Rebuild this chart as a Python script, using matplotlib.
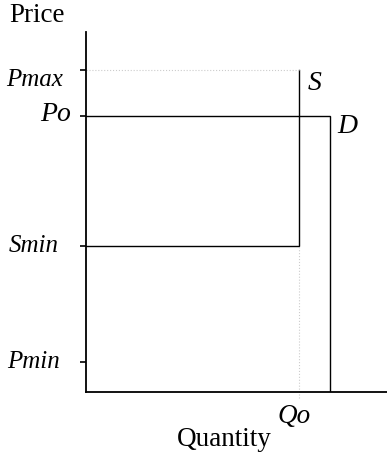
import matplotlib
matplotlib.use("Agg")
import matplotlib.pyplot as plt

plt.rcParams.update({
    "font.family": "serif",
    "font.serif": ["Liberation Serif", "DejaVu Serif"],
    "font.size": 19.5,
})

# price levels on the vertical axis
price_names = ["Pmax", "Po", "Smin", "Pmin"]
price_values = [8.95, 7.67, 4.06, 0.83]
# quantities
qo = 7.08        # supply vertical / Qo
q_demand = 8.1   # demand vertical

p = dict(zip(price_names, price_values))

# supply: horizontal at Smin, then vertical up to Pmax at Qo
supply_x = [0, qo, qo]
supply_y = [p["Smin"], p["Smin"], p["Pmax"]]
# demand: horizontal at Po, then vertical down to zero
demand_x = [0, q_demand, q_demand]
demand_y = [p["Po"], p["Po"], 0]

fig = plt.figure(figsize=(3.87, 4.66), dpi=100)
ax = fig.add_axes([86 / 387, 74 / 466, 301 / 387, 360 / 466])

ax.plot(supply_x, supply_y, color="black", lw=1.0, solid_joinstyle="miter")
ax.plot(demand_x, demand_y, color="black", lw=1.0, solid_joinstyle="miter")

# guide lines (dotted)
ax.plot([0, qo], [p["Pmax"], p["Pmax"]], color="#cccccc", lw=0.8, ls=":")
ax.plot([qo, qo], [-0.17, p["Smin"]], color="#cccccc", lw=0.8, ls=":", clip_on=False)

ax.set_xlim(0, 10)
ax.set_ylim(0, 10)
for s in ["top", "right"]:
    ax.spines[s].set_visible(False)
for s in ["left", "bottom"]:
    ax.spines[s].set_linewidth(1.3)
ax.set_xticks([])
ax.set_yticks(price_values)
ax.set_yticklabels([])
ax.tick_params(axis="y", direction="out", length=4.5, width=1.2)

# tick labels placed by hand (offsets in points from the axis)
label_dx = {"Pmax": -16.5, "Po": -11, "Smin": -20, "Pmin": -18.5}
label_dy = {"Pmax": -7, "Po": 1, "Smin": 0, "Pmin": 0}
label_fs = {"Pmax": 18, "Po": 20, "Smin": 18, "Pmin": 18}
for name, val in zip(price_names, price_values):
    ax.annotate(name, xy=(0, val), xytext=(label_dx[name], label_dy[name]),
                textcoords="offset points", ha="right", va="center",
                style="italic", fontsize=label_fs[name], annotation_clip=False)

ax.text(7.6, 8.56, "S", ha="center", va="center", style="italic", fontsize=20)
ax.text(8.67, 7.38, "D", ha="center", va="center", style="italic", fontsize=20)
ax.text(6.91, -0.67, "Qo", ha="center", va="center", style="italic", clip_on=False)

fig.text(9 / 387, 1 - 16 / 466, "Price", ha="left", va="center")
fig.text(224 / 387, 1 - 440 / 466, "Quantity", ha="center", va="center")

fig.savefig("out.png", dpi=100)
